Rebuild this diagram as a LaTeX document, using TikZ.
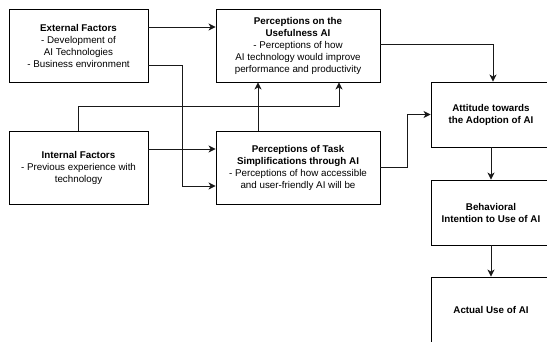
\documentclass[tikz,border=0pt]{standalone}
\usepackage{fontspec}
\setmainfont{Liberation Sans}
\usetikzlibrary{arrows.meta}
\begin{document}
\begin{tikzpicture}[x=1pt,y=-1pt,
  box/.style={draw=black, line width=0.9pt, fill=white, align=center, inner sep=0pt,
    font=\fontsize{9.8}{12}\selectfont},
  arr/.style={draw=black!90, line width=0.9pt, -{Stealth[length=7pt,width=7pt,inset=2pt]}}]
\useasboundingbox (0,0) rectangle (547,341);
\clip (0,0) rectangle (547,341);
\fill[white] (0,0) rectangle (547,341);
\node[box, minimum width=139pt, minimum height=73pt] (ext) at (78.5,45.5)
  {\textbf{External Factors}\\- Development of\\AI Technologies\\- Business environment};
\node[box, minimum width=164pt, minimum height=73pt] (use) at (298,45.5)
  {\textbf{Perceptions on the}\\\textbf{Usefulness AI}\\- Perceptions of how\\AI technology would improve\\performance and productivity};
\node[box, minimum width=139pt, minimum height=73pt] (int) at (78.5,167.5)
  {\textbf{Internal Factors}\\- Previous experience with\\technology};
\node[box, minimum width=164pt, minimum height=73pt] (task) at (298,167.5)
  {\textbf{Perceptions of Task}\\\textbf{Simplifications through AI}\\- Perceptions of how accessible\\and user-friendly AI will be};
\node[box, minimum width=120pt, minimum height=65pt] (att) at (491,114.5)
  {\textbf{Attitude towards}\\\textbf{the Adoption of AI}};
\node[box, minimum width=120pt, minimum height=65pt] (beh) at (491,212.5)
  {\textbf{Behavioral}\\\textbf{Intention to Use of AI}};
\node[box, minimum width=120pt, minimum height=65pt] (act) at (491,309.5)
  {\textbf{Actual Use of AI}};
\draw[arr] ([yshift=18.5pt]ext.east) -- ([yshift=18.5pt]use.west);
\draw[arr] ([yshift=-19.5pt]ext.east) -- ++(34,0) |- ([yshift=-18.5pt]task.west);
\draw[arr] (int.north) -- ++(0,-24) -| ([xshift=41pt]use.south);
\draw[arr] ([yshift=18.5pt]int.east) -- ([yshift=18.5pt]task.west);
\draw[arr] ([xshift=-40pt]task.north) -- ([xshift=-40pt]use.south);
\draw[arr] ([yshift=1.5pt]use.east) -| ([xshift=2pt]att.north);
\draw[arr] (task.east) -- ++(27,0) |- (att.west);
\draw[arr] (att.south) -- (beh.north);
\draw[arr] (beh.south) -- (act.north);
\end{tikzpicture}
\end{document}
